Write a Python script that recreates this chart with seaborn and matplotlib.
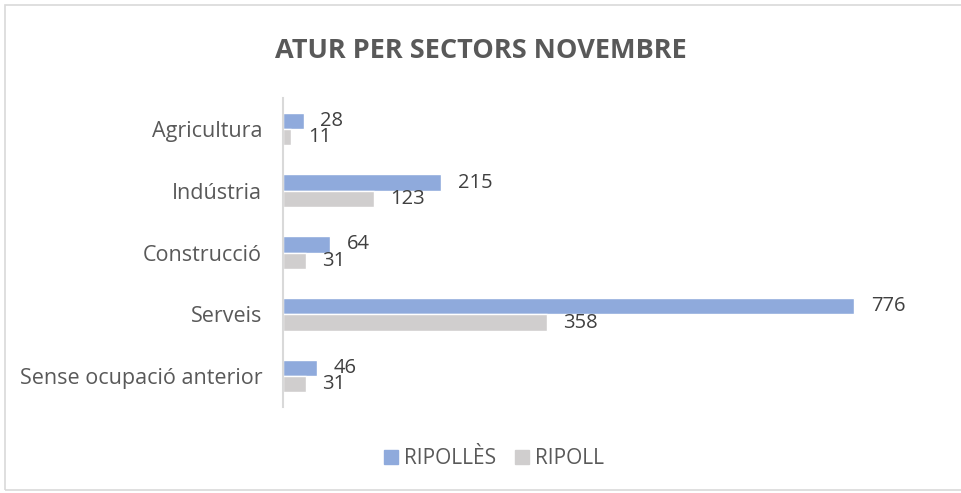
import pandas as pd
import seaborn as sns
import matplotlib.pyplot as plt
from matplotlib.patches import Rectangle

# Data
sectors = ['Agricultura', 'Indústria', 'Construcció', 'Serveis', 'Sense ocupació anterior']
ripolles = [28, 215, 64, 776, 46]
ripoll = [11, 123, 31, 358, 31]
series = ['RIPOLLÈS', 'RIPOLL']
colors = ['#8FAADC', '#D0CECE']


def build_frame():
    df = pd.DataFrame({'sector': sectors * 2,
                       'valor': ripolles + ripoll,
                       'zona': [series[0]] * len(sectors) + [series[1]] * len(sectors)})
    return df


def draw_chart(df):
    sns.set_style('white')
    plt.rcParams['font.family'] = ['Open Sans', 'DejaVu Sans']
    text_col = '#595959'

    fig = plt.figure(figsize=(9.61, 4.93), dpi=100)
    ax = fig.add_axes([0.2945, 0.1744, 0.6895, 0.6268])

    sns.barplot(data=df, y='sector', x='valor', hue='zona', hue_order=series,
                palette=colors, orient='h', width=0.53, saturation=1,
                ax=ax, legend=False)

    for cont in ax.containers:
        ax.bar_label(cont, padding=12, fontsize=14.5, color='#404040')

    ax.set_xlim(0, 900)
    ax.set_xticks([])
    ax.set_xlabel('')
    ax.set_ylabel('')
    ax.tick_params(axis='y', length=0, pad=15, labelsize=15.5, labelcolor=text_col)
    for side in ['top', 'right', 'bottom']:
        ax.spines[side].set_visible(False)
    ax.spines['left'].set_color('#D9D9D9')
    ax.spines['left'].set_linewidth(1.5)

    fig.suptitle('ATUR PER SECTORS NOVEMBRE', x=0.5, y=0.897, va='center',
                 fontsize=19.5, fontweight='bold', color=text_col)

    handles = [Rectangle((0, 0), 1, 1, color=c) for c in colors]
    fig.legend(handles, series, loc='center', bbox_to_anchor=(0.514, 0.069), ncol=2,
               frameon=False, fontsize=15, handlelength=0.68, handleheight=0.68,
               handletextpad=0.3, columnspacing=0.9, labelcolor=text_col)

    # outer chart border
    fig.add_artist(Rectangle((0.005, 0.006), 1.2, 0.984, transform=fig.transFigure,
                             fill=False, edgecolor='#D9D9D9', linewidth=1.2))

    fig.savefig('out.png', dpi=100)


if __name__ == "__main__":
    draw_chart(build_frame())
